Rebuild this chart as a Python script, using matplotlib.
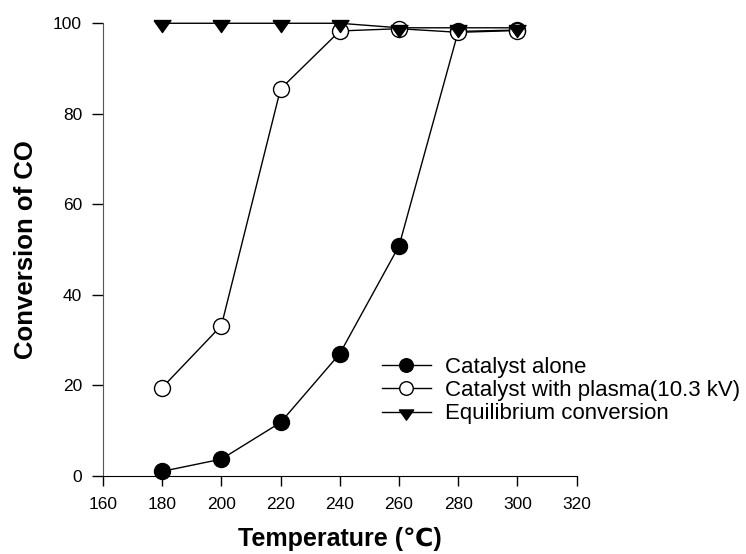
import matplotlib
matplotlib.use("Agg")
import matplotlib.pyplot as plt

plt.rcParams['font.family'] = ['Liberation Sans', 'DejaVu Sans']

# data
temps = [180, 200, 220, 240, 260, 280, 300]
catalyst_alone = [1.0, 3.7, 11.8, 27.0, 50.8, 98.2, 98.5]
catalyst_plasma = [19.5, 33.2, 85.5, 98.3, 98.8, 98.0, 98.4]
equilibrium = [100, 100, 100, 100, 99.0, 99.0, 99.0]

# flat down-triangle, hanging a bit below the point like the original
tri = [(-0.94, 0.33), (0.94, 0.33), (0, -1.0), (-0.94, 0.33)]

fig = plt.figure(figsize=(7.46, 5.54), dpi=100)
ax = fig.add_axes([0.138, 0.141, 0.635, 0.817])

ax.plot(temps, catalyst_alone, 'k-', marker='o', ms=11.5, mfc='black', mec='black',
        lw=1, label='Catalyst alone', clip_on=False, zorder=3)
ax.plot(temps, catalyst_plasma, 'k-', marker='o', ms=11.5, mfc='white', mec='black',
        lw=1, label='Catalyst with plasma(10.3 kV)', clip_on=False, zorder=3)
ax.plot(temps, equilibrium, 'k-', marker=tri, ms=13, mfc='black', mec='black',
        lw=1, label='Equilibrium conversion', clip_on=False, zorder=4)

ax.set_xlim(160, 320)
ax.set_ylim(0, 100)
ax.set_xticks(range(160, 321, 20))
ax.set_yticks(range(0, 101, 20))
ax.spines['top'].set_visible(False)
ax.spines['right'].set_visible(False)
ax.spines['left'].set_color('#555555')
ax.tick_params(axis='x', direction='out', length=7, width=1, labelsize=12.5, pad=8)
ax.tick_params(axis='y', direction='out', length=8, width=1, labelsize=12.5, pad=7)

ax.set_xlabel('Temperature (℃)', fontsize=18, fontweight='bold', labelpad=11)
ax.set_ylabel('Conversion of CO', fontsize=18.5, fontweight='bold', labelpad=11)

ax.legend(loc='upper left', bbox_to_anchor=(382 / 746, 1 - 357 / 554),
          bbox_transform=fig.transFigure, frameon=False, fontsize=16,
          handlelength=2.2, handletextpad=0.62, labelspacing=0.1,
          borderpad=0, borderaxespad=0, markerscale=0.85)

fig.savefig('out.png', dpi=100)
